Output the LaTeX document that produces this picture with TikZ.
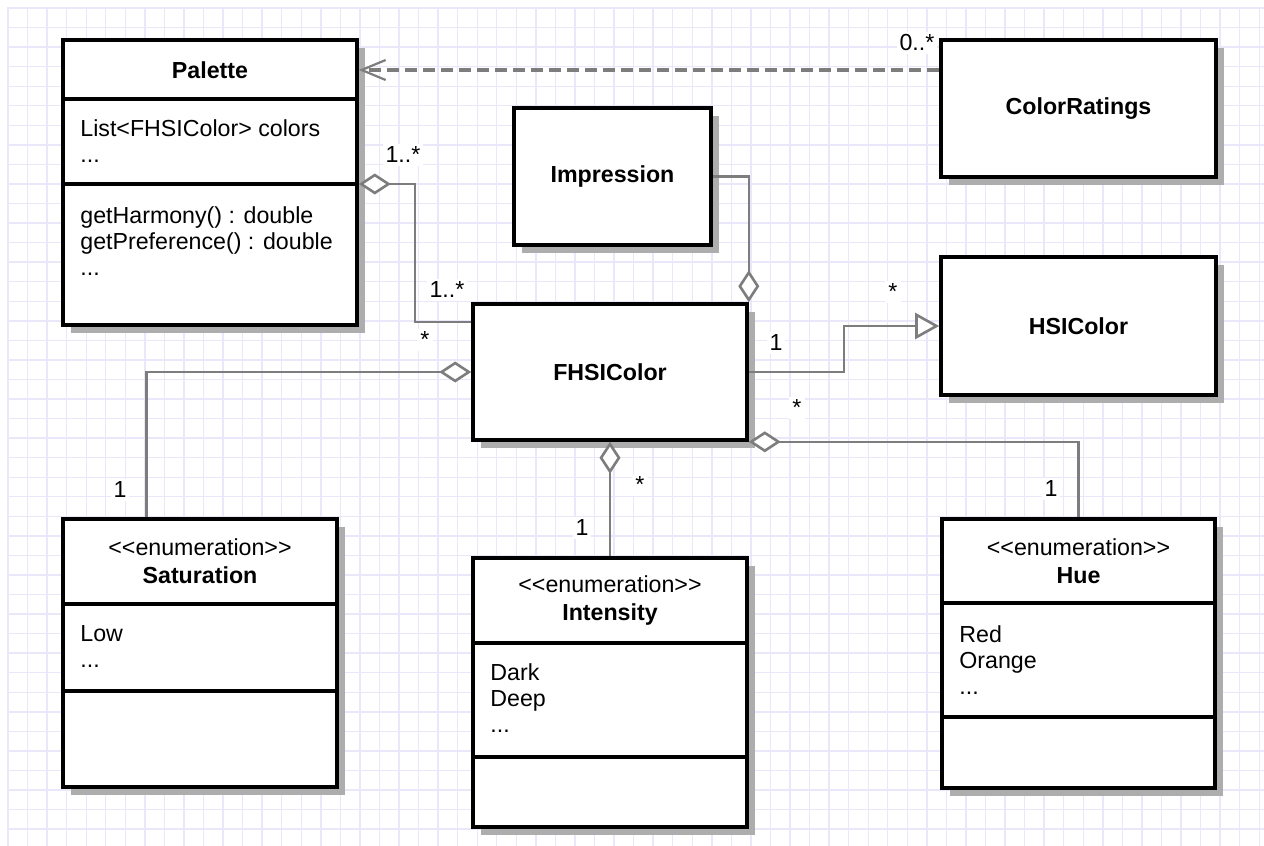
\documentclass[tikz,border=0pt]{standalone}
\usepackage{fontspec}
\setmainfont{Liberation Sans}
\usetikzlibrary{arrows.meta,positioning,calc,shadows}
\definecolor{gridlav}{RGB}{233,232,250}
\definecolor{linkgray}{RGB}{125,125,125}
\newcommand{\stereo}[1]{<\kern0pt<#1>\kern0pt>}

\begin{document}
\begin{tikzpicture}[x=0.5pt, y=-0.5pt,
    every node/.style={font=\fontsize{11.6pt}{13pt}\selectfont},
    classbox/.style={draw, line width=1.8pt, fill=white, inner sep=0pt,
        drop shadow={shadow xshift=4pt, shadow yshift=-4pt, fill=black!32, opacity=1},
        font=\fontsize{11.6pt}{13pt}\selectfont\bfseries},
    divider/.style={line width=1.8pt},
    head/.style={align=center, inner sep=0pt, font=\fontsize{11.6pt}{14pt}\selectfont},
    items/.style={align=left, anchor=north west, inner sep=0pt},
    gridline/.style={draw=gridlav, line width=0.7pt},
    link/.style={draw=linkgray, line width=1.3pt},
    agg/.style={link, {Diamond[open, length=16pt, width=10.5pt, fill=white]}-},
    gen/.style={link, -{Triangle[open, length=12pt, width=13pt, fill=white]}},
    dep/.style={link, line width=1.8pt, dash pattern=on 6pt off 3pt,
        -{Straight Barb[length=12pt, width=10pt, line width=1.1pt]}},
    mult/.style={fill=white, inner sep=1.5pt}
]

\useasboundingbox[fill=white] (0,0) rectangle (1264,846);
\foreach \k in {0,...,64} \draw[gridline] (8+19.55*\k,7) -- (8+19.55*\k,846);
\foreach \k in {0,...,42} \draw[gridline] (7,8+19.55*\k) -- (1264,8+19.55*\k);

% classes
\node[classbox, minimum width=147pt, minimum height=142.5pt] (pal) at (210,182.5) {};
\node[font=\fontsize{11.6pt}{13pt}\selectfont\bfseries] (pal-name) at (210,70) {Palette};
\draw[divider] (pal.west |- 0,99) -- (pal.east |- 0,99);
\draw[divider] (pal.west |- 0,184) -- (pal.east |- 0,184);
\node[items] (pal-attr) at (80,119) {List<FHSIColor> colors\\...};
\node[items] (pal-ops) at (80,206) {getHarmony() : double\\getPreference() : double\\...};

\node[classbox, minimum width=137.5pt, minimum height=68.5pt] (cr) at (1078.5,108.5) {ColorRatings};
\node[classbox, minimum width=98.5pt, minimum height=68.5pt] (imp) at (612.5,176.5) {Impression};
\node[classbox, minimum width=137.5pt, minimum height=69pt] (hsi) at (1078.5,326) {HSIColor};
\node[classbox, minimum width=137pt, minimum height=68pt] (fhsi) at (610,372) {FHSIColor};

% enumerations
\node[classbox, minimum width=137pt, minimum height=134pt] (sat) at (200,653) {};
\node[head] (sat-name) at (200,561.5) {\stereo{enumeration}\\\textbf{Saturation}};
\draw[divider] (sat.west |- 0,604) -- (sat.east |- 0,604);
\draw[divider] (sat.west |- 0,691) -- (sat.east |- 0,691);
\node[items] (sat-vals) at (80,625) {Low\\...};

\node[classbox, minimum width=137pt, minimum height=134.5pt] (int) at (610,692.5) {};
\node[head] (int-name) at (610,600.5) {\stereo{enumeration}\\\textbf{Intensity}};
\draw[divider] (int.west |- 0,643) -- (int.east |- 0,643);
\draw[divider] (int.west |- 0,757) -- (int.east |- 0,757);
\node[items] (int-vals) at (490,663) {Dark\\Deep\\...};

\node[classbox, minimum width=136.5pt, minimum height=134.5pt] (hue) at (1078.5,653.5) {};
\node[head] (hue-name) at (1078.5,561) {\stereo{enumeration}\\\textbf{Hue}};
\draw[divider] (hue.west |- 0,603) -- (hue.east |- 0,603);
\draw[divider] (hue.west |- 0,717) -- (hue.east |- 0,717);
\node[items] (hue-vals) at (959,625) {Red\\Orange\\...};

% relations
\draw[dep] (cr.west |- pal-name) -- (pal.east |- pal-name);
\node[mult] (m-cr) at (917,43) {0..*};

\draw[agg] (pal.east |- 0,184) -| ($(pal.east)!.5!(fhsi.west)$) |- (fhsi.west |- 0,322);
\node[mult] (m-pal) at (403,155) {1..*};
\node[mult] (m-fpal) at (447,290) {1..*};

\draw[agg] (fhsi.north east) |- (imp.east);

\draw[gen] (fhsi.east) -| ($(fhsi.east)!.5!(hsi.west)$) |- (hsi.west);
\node[mult] (m-fhsi) at (776,343) {1};
\node[mult] (m-hsi) at (893,292) {*};

\draw[agg] (fhsi.west) -| ($(sat.north west)+(85,0)$);
\node[mult] (m-fsat) at (425,340) {*};
\node[mult] (m-sat) at (120,490) {1};

\draw[agg] (fhsi.south) -- (int.north);
\node[mult] (m-fint) at (640,485) {*};
\node[mult] (m-int) at (582,528) {1};

\draw[agg] (fhsi.south east) -| (hue.north);
\node[mult] (m-fhue) at (797,408) {*};
\node[mult] (m-hue) at (1051,489) {1};

\end{tikzpicture}
\end{document}
